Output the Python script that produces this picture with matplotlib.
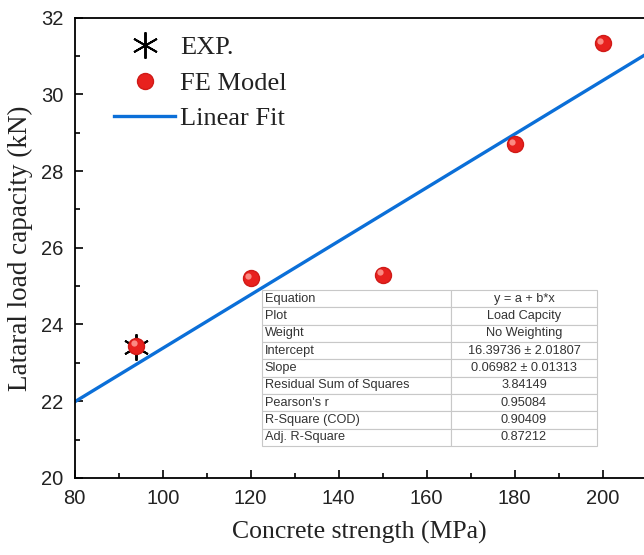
import numpy as np
import matplotlib.pyplot as plt
from matplotlib.lines import Line2D

# ---- DATA ----
exp_x = [94]
exp_y = [23.4]
fe_x = [94, 120, 150, 180, 200]
fe_y = [23.45, 25.2, 25.3, 28.7, 31.33]
intercept = 16.39736
slope = 0.06982

table_keys = ["Equation", "Plot", "Weight", "Intercept", "Slope",
              "Residual Sum of Squares", "Pearson's r", "R-Square (COD)",
              "Adj. R-Square"]
table_vals = ["y = a + b*x", "Load Capcity", "No Weighting",
              "16.39736 \u00b1 2.01807", "0.06982 \u00b1 0.01313",
              "3.84149", "0.95084", "0.90409", "0.87212"]

serif = "Liberation Serif"
sans = "Liberation Sans"
red = "#e8211e"
blue = "#0b6fd8"

fig = plt.figure(figsize=(6.44, 5.55), dpi=100)
ax = fig.add_axes([0.116, 0.139, 0.884, 0.829])

xmin, xmax = 80, 209.4
ax.set_xlim(xmin, xmax)
ax.set_ylim(20, 32)

# ---- FIT LINE ----
xf = np.array([xmin, xmax])
ax.plot(xf, intercept + slope * xf, color=blue, lw=2.4, zorder=2)

# ---- EXP + FE POINTS ----
ax.plot(exp_x, exp_y, ls="none", marker=(6, 2, 0), ms=19, mew=1.4,
        color="black", zorder=3)
ax.plot(fe_x, fe_y, ls="none", marker="o", ms=11.5, mfc=red,
        mec="#d01a17", zorder=4)
# glossy highlight on the spheres
ax.plot(np.array(fe_x) - 0.6, np.array(fe_y) + 0.07, ls="none", marker="o",
        ms=4.5, mfc="#ff9d94", mec="none", alpha=0.85, zorder=5)

# ---- AXES STYLE ----
ax.spines["right"].set_visible(False)
for s in ["left", "bottom", "top"]:
    ax.spines[s].set_linewidth(1.3)
ax.set_xticks([80, 100, 120, 140, 160, 180, 200])
ax.set_xticks([90, 110, 130, 150, 170, 190], minor=True)
ax.set_yticks([20, 22, 24, 26, 28, 30, 32])
ax.set_yticks([21, 23, 25, 27, 29, 31], minor=True)
ax.tick_params(which="major", direction="in", length=6, width=1.2,
               labelsize=14.5, pad=8, top=False, right=False)
ax.tick_params(which="minor", direction="in", length=3.5, width=1.2,
               top=False, right=False)
for lab in ax.get_xticklabels() + ax.get_yticklabels():
    lab.set_fontfamily(sans)
    lab.set_color("#222222")

ax.set_xlabel("Concrete strength (MPa)", fontfamily=serif, fontsize=18.5,
              labelpad=9, color="#222222")
ax.set_ylabel("Lataral load capacity (kN)", fontfamily=serif, fontsize=19.5,
              labelpad=6, color="#222222")

# ---- LEGEND ----
handles = [
    Line2D([], [], ls="none", marker=(6, 2, 0), ms=19, mew=1.4, color="black"),
    Line2D([], [], ls="none", marker="o", ms=11.5, mfc=red, mec="#d01a17"),
    Line2D([], [], color=blue, lw=2.4),
]
leg = ax.legend(handles, ["EXP.", "FE Model", "Linear Fit"], loc="upper left",
                bbox_to_anchor=(0.028, 1.012), frameon=False, handlelength=2.3,
                handletextpad=0.2, labelspacing=0.45,
                prop={"family": serif, "size": 19})
for t in leg.get_texts():
    t.set_color("#222222")

# ---- FIT STATISTICS TABLE ----
cells = [[k, v] for k, v in zip(table_keys, table_vals)]
tbl = ax.table(cellText=cells, cellLoc="left", colWidths=[0.565, 0.435],
               bbox=[0.329, 0.0696, 0.588, 0.339], zorder=6)
tbl.auto_set_font_size(False)
for (r, c), cell in tbl.get_celld().items():
    cell.set_edgecolor("#c8c8c8")
    cell.set_linewidth(0.8)
    cell.set_facecolor("white")
    txt = cell.get_text()
    txt.set_fontsize(9.2)
    txt.set_fontfamily(sans)
    txt.set_color("#333333")
    if c == 1:
        txt.set_horizontalalignment("center")
        cell._loc = "center"
    else:
        cell.PAD = 0.015

fig.savefig("out.png", dpi=100)
